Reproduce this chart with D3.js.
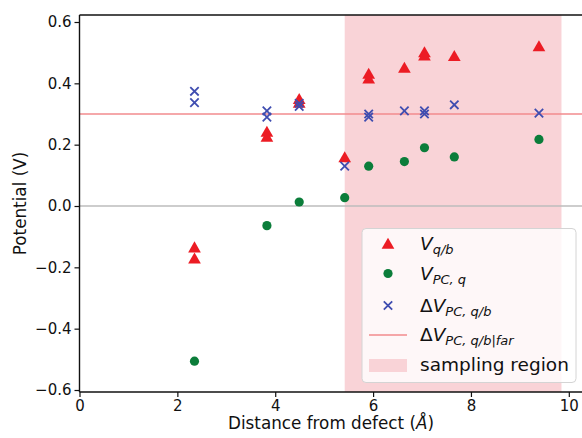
<!DOCTYPE html>
<html>
<head>
<meta charset="utf-8">
<script src="https://cdn.jsdelivr.net/npm/d3@7"></script>
<style>
body{margin:0;background:#fff;}
svg{display:block;font-family:"DejaVu Sans",sans-serif;}
</style>
</head>
<body>
<div id="chart"></div>
<script>
// V_q/b (triangles)
var triX = [2.35, 2.35, 3.83, 3.83, 4.49, 4.49, 5.42, 5.91, 5.91, 6.64, 7.05, 7.05, 7.66, 9.39];
var triY = [-0.136, -0.172, 0.241, 0.225, 0.348, 0.336, 0.158, 0.43, 0.415, 0.45, 0.50, 0.49, 0.488, 0.52];
// V_PC,q (circles)
var dotX = [2.35, 3.83, 4.49, 5.42, 5.91, 6.64, 7.05, 7.66, 9.39];
var dotY = [-0.506, -0.064, 0.013, 0.027, 0.13, 0.145, 0.19, 0.16, 0.217];
// dV_PC,q/b (crosses)
var crsX = [2.35, 2.35, 3.83, 3.83, 4.49, 4.49, 5.42, 5.91, 5.91, 6.64, 7.05, 7.05, 7.66, 9.39];
var crsY = [0.374, 0.337, 0.31, 0.29, 0.335, 0.325, 0.13, 0.30, 0.29, 0.31, 0.31, 0.30, 0.33, 0.303];
var farLevel = 0.30;
var region = [5.42, 9.85];
var xTicks = [0, 2, 4, 6, 8, 10];
var yTicks = [-0.6, -0.4, -0.2, 0.0, 0.2, 0.4, 0.6];

var W = 582, H = 438;
var mLeft = 79.5, mTop = 15, mRight = 583, mBottom = 392;

var x = d3.scaleLinear().domain([0, 10.29]).range([mLeft, mRight]);
var y = d3.scaleLinear().domain([-0.6, 0.6]).range([390, 22]);

var svg = d3.select('#chart').append('svg')
    .attr('width', W).attr('height', H);

// sampling region
svg.append('rect')
    .attr('x', x(region[0])).attr('y', mTop)
    .attr('width', x(region[1]) - x(region[0]))
    .attr('height', mBottom - mTop)
    .attr('fill', '#f9d3d7');

// zero line
svg.append('line')
    .attr('x1', mLeft).attr('x2', mRight)
    .attr('y1', y(0)).attr('y2', y(0))
    .attr('stroke', '#bdbdbd').attr('stroke-width', 1.5);

// far-field line
svg.append('line')
    .attr('x1', mLeft).attr('x2', mRight)
    .attr('y1', y(farLevel)).attr('y2', y(farLevel))
    .attr('stroke', '#f28b8e').attr('stroke-width', 1.5);

var red = '#ec1c24', green = '#0b7d3a', blue = '#3f4db0';
var tri = d3.symbol().type(d3.symbolTriangle).size(70);

svg.append('g').selectAll('path').data(d3.zip(triX, triY)).enter()
    .append('path')
    .attr('d', tri)
    .attr('transform', function(d){ return 'translate(' + [x(d[0]), y(d[1]) + 1] + ')'; })
    .attr('fill', red);

svg.append('g').selectAll('circle').data(d3.zip(dotX, dotY)).enter()
    .append('circle')
    .attr('cx', function(d){ return x(d[0]); })
    .attr('cy', function(d){ return y(d[1]); })
    .attr('r', 4.6)
    .attr('fill', green);

function crossPath(s){
    return 'M' + (-s) + ',' + (-s) + 'L' + s + ',' + s + 'M' + (-s) + ',' + s + 'L' + s + ',' + (-s);
}
svg.append('g').selectAll('path').data(d3.zip(crsX, crsY)).enter()
    .append('path')
    .attr('d', crossPath(4.2))
    .attr('transform', function(d){ return 'translate(' + [x(d[0]), y(d[1])] + ')'; })
    .attr('stroke', blue).attr('stroke-width', 1.8).attr('fill', 'none');

// axes
var xAxis = d3.axisBottom(x).tickValues(xTicks).tickFormat(d3.format('d')).tickSizeOuter(0).tickSize(5).tickPadding(3);
var yAxis = d3.axisLeft(y).tickValues(yTicks).tickFormat(function(d){ return d3.format('.1f')(d).replace('-', '\u2212'); }).tickSizeOuter(0).tickSize(5).tickPadding(3);

var gx = svg.append('g').attr('transform', 'translate(0,' + mBottom + ')').call(xAxis);
var gy = svg.append('g').attr('transform', 'translate(' + mLeft + ',0)').call(yAxis);
gx.select('.domain').attr('d', 'M' + mLeft + ',0H' + mRight);
gy.select('.domain').attr('d', 'M0,' + mTop + 'V' + mBottom);
[gx, gy].forEach(function(g){
    g.selectAll('.domain').attr('stroke', '#111').attr('stroke-width', 1.4);
    g.selectAll('.tick line').attr('stroke', '#111').attr('stroke-width', 1.2);
    g.selectAll('.tick text').attr('fill', '#111').style('font-size', '15px').style('font-family', '"DejaVu Sans",sans-serif');
});

// top spine
svg.append('line')
    .attr('x1', mLeft).attr('x2', mRight).attr('y1', mTop).attr('y2', mTop)
    .attr('stroke', '#111').attr('stroke-width', 1.4);

// axis labels
svg.append('text')
    .attr('x', 331).attr('y', 429)
    .attr('text-anchor', 'middle')
    .style('font-size', '16.8px').attr('fill', '#111')
    .html('Distance from defect (<tspan font-style="italic">\u00c5</tspan>)');

svg.append('text')
    .attr('transform', 'translate(26,' + ((mTop + mBottom) / 2) + ') rotate(-90)')
    .attr('text-anchor', 'middle')
    .style('font-size', '16.8px').attr('fill', '#111')
    .text('Potential (V)');

// legend
var lg = svg.append('g');
lg.append('rect')
    .attr('x', 362).attr('y', 228.5).attr('width', 214).attr('height', 154).attr('rx', 4)
    .attr('fill', 'rgba(255,255,255,0.82)').attr('stroke', '#d4d4d4');

var mx = 388, tx = 420;
var rows = [244, 273.5, 305.5, 335, 365];
lg.append('path').attr('d', tri).attr('transform', 'translate(' + [mx, rows[0] + 1] + ')').attr('fill', red);
lg.append('circle').attr('cx', mx).attr('cy', rows[1]).attr('r', 4.6).attr('fill', green);
lg.append('path').attr('d', crossPath(4.2)).attr('transform', 'translate(' + [mx, rows[2]] + ')')
    .attr('stroke', blue).attr('stroke-width', 1.8).attr('fill', 'none');
lg.append('line').attr('x1', mx - 19).attr('x2', mx + 19).attr('y1', rows[3]).attr('y2', rows[3])
    .attr('stroke', '#f28b8e').attr('stroke-width', 1.5);
lg.append('rect').attr('x', mx - 19).attr('y', rows[4] - 6).attr('width', 38).attr('height', 13).attr('fill', '#f9d3d7');

var labels = [
    ['', 'q/b'],
    ['', 'PC, q'],
    ['\u0394', 'PC, q/b'],
    ['\u0394', 'PC, q/b|far']
];
labels.forEach(function(l, i){
    var t = lg.append('text').attr('x', tx).attr('y', rows[i] + 6)
        .style('font-size', '18.5px').attr('fill', '#111');
    if (l[0]) t.append('tspan').text(l[0]);
    t.append('tspan').attr('font-style', 'italic').text('V');
    t.append('tspan').attr('font-style', 'italic').attr('dy', 4).style('font-size', '13px').text(l[1]);
});
lg.append('text').attr('x', tx).attr('y', rows[4] + 6)
    .style('font-size', '18.5px').attr('fill', '#111').text('sampling region');
</script>
</body>
</html>
